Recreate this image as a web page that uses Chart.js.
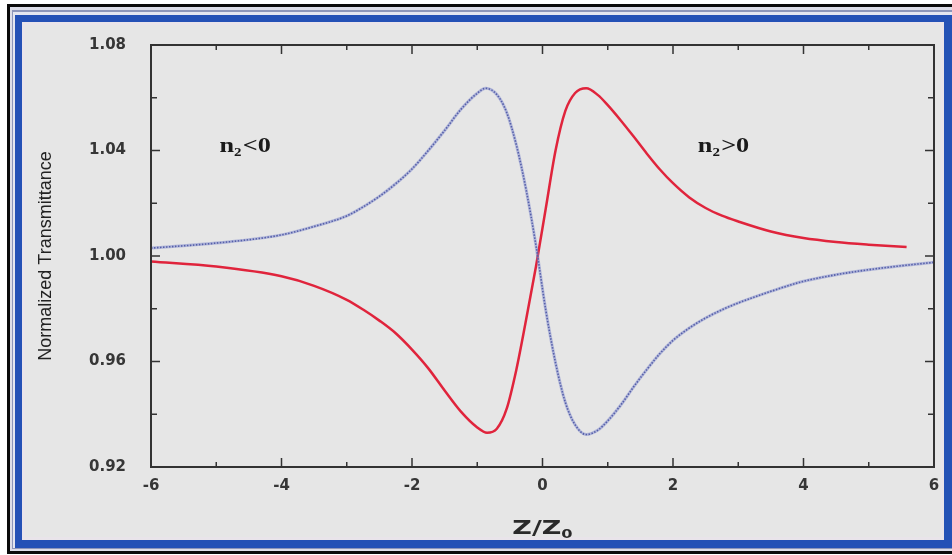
<!DOCTYPE html>
<html>
<head>
<meta charset="utf-8">
<script src="https://cdn.jsdelivr.net/npm/chart.js@4.4.0/dist/chart.umd.min.js"></script>
<style>
html, body { margin: 0; padding: 0; background: #fff; }
#wrap { width: 952px; height: 555px; }
</style>
</head>
<body>
<div id="wrap"><canvas id="zscan"></canvas></div>
<script>
// values (Z/Z0 vs normalized transmittance)
// n2 < 0 : blue dotted curve (peak then valley)
const zNeg = [-6, -5, -4, -3.5, -3, -2.75, -2.5, -2.25, -2, -1.75, -1.5, -1.25, -1.0, -0.87, -0.7, -0.55, -0.4, -0.25, -0.1, 0.05, 0.2, 0.35, 0.5, 0.67, 0.85, 1.0, 1.2, 1.4, 1.6, 1.8, 2, 2.25, 2.5, 2.75, 3, 3.5, 4, 4.5, 5, 5.5, 6];
const tNeg = [1.0030, 1.0049, 1.0080, 1.0112, 1.0152, 1.0186, 1.0226, 1.0274, 1.0330, 1.0400, 1.0476, 1.0556, 1.0617, 1.0636, 1.0612, 1.0545, 1.0420, 1.0250, 1.0040, 0.9795, 0.9595, 0.9445, 0.9360, 0.9323, 0.9340, 0.9375, 0.9435, 0.9505, 0.9570, 0.9630, 0.9680, 0.9727, 0.9765, 0.9796, 0.9822, 0.9866, 0.9904, 0.9929, 0.9948, 0.9963, 0.9976];

// n2 > 0 : red solid curve (valley then peak)
const zPos = [-6, -5, -4, -3.5, -3, -2.75, -2.5, -2.25, -2, -1.75, -1.5, -1.25, -1.0, -0.85, -0.7, -0.55, -0.4, -0.25, -0.1, 0.05, 0.2, 0.35, 0.5, 0.67, 0.85, 1.0, 1.2, 1.4, 1.6, 1.8, 2, 2.25, 2.5, 2.75, 3, 3.5, 4, 4.5, 5, 5.58];
const tPos = [0.9979, 0.9960, 0.9923, 0.9887, 0.9834, 0.9797, 0.9755, 0.9707, 0.9645, 0.9574, 0.9490, 0.9410, 0.9350, 0.9330, 0.9345, 0.9420, 0.9570, 0.9760, 0.9960, 1.0180, 1.0400, 1.0550, 1.0618, 1.0636, 1.0610, 1.0572, 1.0514, 1.0452, 1.0388, 1.0328, 1.0276, 1.0222, 1.0182, 1.0153, 1.0131, 1.0093, 1.0068, 1.0053, 1.0043, 1.0034];

const xTickLabels = ['-6', '-4', '-2', '0', '2', '4', '6'];
const yTickLabels = ['0.92', '0.96', '1.00', '1.04', '1.08'];

// annotation anchors in data units
const notes = [
    { text: 'n', sub: '2', rest: '<0', z: -4.95, t: 1.042 },
    { text: 'n', sub: '2', rest: '>0', z: 2.38, t: 1.042 }
];

const toPts = (xs, ys) => xs.map((x, i) => ({ x: x, y: ys[i] }));

// background, blue frame
const framePlugin = {
    id: 'frame',
    beforeDraw(chart) {
        const ctx = chart.ctx;
        const w = chart.width;
        ctx.save();
        ctx.fillStyle = '#ffffff';
        ctx.fillRect(0, 0, w, chart.height);
        ctx.fillStyle = '#0b0b0b';
        ctx.fillRect(7, 4, w - 7, 550);
        ctx.fillStyle = '#dcdde8';
        ctx.fillRect(10, 7, w - 10, 544);
        ctx.fillStyle = '#8d96ba';
        ctx.fillRect(12, 10, w - 12, 539);
        ctx.fillStyle = '#e4e6f0';
        ctx.fillRect(13, 12, w - 13, 536);
        ctx.fillStyle = '#2451b6';
        ctx.fillRect(15, 15, w - 15, 533);
        ctx.fillStyle = '#e9e4ea';
        ctx.fillRect(22, 22, 922, 518);
        ctx.fillStyle = '#e6e6e6';
        ctx.fillRect(25, 25, 916, 512);
        ctx.restore();
    }
};

// axis box with inward ticks, text annotations, x title
const axesPlugin = {
    id: 'axesBox',
    afterDraw(chart) {
        const ctx = chart.ctx;
        const a = chart.chartArea;
        const xs = chart.scales.x;
        const ys = chart.scales.y;
        ctx.save();
        ctx.strokeStyle = '#333333';
        ctx.lineWidth = 2;
        ctx.strokeRect(a.left, a.top, a.right - a.left, a.bottom - a.top);

        ctx.lineWidth = 1.5;
        ctx.beginPath();
        xs.ticks.forEach(tk => {
            const px = xs.getPixelForValue(tk.value);
            const len = Math.round(tk.value) % 2 === 0 ? 9 : 5;
            ctx.moveTo(px, a.bottom); ctx.lineTo(px, a.bottom - len);
            ctx.moveTo(px, a.top); ctx.lineTo(px, a.top + len);
        });
        ys.ticks.forEach(tk => {
            const py = ys.getPixelForValue(tk.value);
            const len = Math.round(tk.value * 100) % 4 === 0 ? 9 : 6;
            ctx.moveTo(a.left, py); ctx.lineTo(a.left + len, py);
            ctx.moveTo(a.right, py); ctx.lineTo(a.right - len, py);
        });
        ctx.stroke();

        // n2 labels, a bit stretched like the source
        ctx.fillStyle = '#1a1a1a';
        ctx.textBaseline = 'alphabetic';
        notes.forEach(n => {
            const px0 = xs.getPixelForValue(n.z);
            const py = ys.getPixelForValue(n.t) + 7;
            ctx.save();
            ctx.translate(px0, py);
            ctx.scale(1.25, 1);
            let px = 0;
            ctx.font = 'bold 21px "Liberation Serif", serif';
            ctx.fillText(n.text, px, 0);
            px += ctx.measureText(n.text).width;
            ctx.font = 'bold 12px "Liberation Serif", serif';
            ctx.fillText(n.sub, px, 4);
            px += ctx.measureText(n.sub).width + 1;
            ctx.font = 'bold 21px "Liberation Serif", serif';
            ctx.fillText(n.rest, px, 0);
            ctx.restore();
        });

        // x axis title Z/Z0
        const cx = (a.left + a.right) / 2;
        ctx.translate(cx, 534);
        ctx.scale(1.35, 1);
        ctx.font = 'bold 20px "DejaVu Sans", sans-serif';
        const main = 'Z/Z';
        const wMain = ctx.measureText(main).width;
        ctx.font = 'bold 12px "DejaVu Sans", sans-serif';
        const wSub = ctx.measureText('0').width;
        const x0 = -(wMain + wSub) / 2;
        ctx.fillStyle = '#2a2a2a';
        ctx.font = 'bold 20px "DejaVu Sans", sans-serif';
        ctx.fillText(main, x0, 0);
        ctx.font = 'bold 12px "DejaVu Sans", sans-serif';
        ctx.fillText('0', x0 + wMain, 4);
        ctx.restore();
    }
};

const tickFont = { family: '"DejaVu Sans", sans-serif', size: 15, weight: 'bold' };

new Chart(document.getElementById('zscan'), {
    type: 'scatter',
    data: {
        datasets: [
            {
                // soft halo under the dotted curve
                label: 'n2<0 halo',
                data: toPts(zNeg, tNeg),
                showLine: true,
                borderColor: 'rgba(125, 135, 205, 0.5)',
                borderWidth: 3,
                pointRadius: 0,
                cubicInterpolationMode: 'monotone'
            },
            {
                label: 'n2<0',
                data: toPts(zNeg, tNeg),
                showLine: true,
                borderColor: '#2d3784',
                borderWidth: 1.6,
                borderDash: [1.5, 1.5],
                pointRadius: 0,
                cubicInterpolationMode: 'monotone'
            },
            {
                label: 'n2>0',
                data: toPts(zPos, tPos),
                showLine: true,
                borderColor: '#e0243c',
                borderWidth: 2.5,
                pointRadius: 0,
                cubicInterpolationMode: 'monotone'
            }
        ]
    },
    options: {
        responsive: true,
        maintainAspectRatio: false,
        animation: false,
        layout: { padding: { top: 45, right: 18, left: 0, bottom: 0 } },
        plugins: {
            legend: { display: false },
            tooltip: { enabled: false }
        },
        scales: {
            x: {
                type: 'linear',
                min: -6,
                max: 6,
                grid: { display: false },
                border: { display: false },
                ticks: {
                    stepSize: 1,
                    autoSkip: false,
                    maxRotation: 0,
                    padding: 2,
                    color: '#363636',
                    font: tickFont,
                    callback: v => xTickLabels.includes(String(v)) ? String(v) : ''
                },
                afterFit: s => { s.height = 88; }
            },
            y: {
                min: 0.92,
                max: 1.08,
                grid: { display: false },
                border: { display: false },
                title: {
                    display: true,
                    text: 'Normalized Transmittance',
                    color: '#222222',
                    font: { family: '"Liberation Sans", Arial, sans-serif', size: 18 },
                    padding: { top: 35, bottom: 0 }
                },
                ticks: {
                    stepSize: 0.02,
                    autoSkip: false,
                    padding: 17,
                    color: '#363636',
                    font: tickFont,
                    callback: v => yTickLabels.includes(Number(v).toFixed(2)) ? Number(v).toFixed(2) : ''
                },
                afterFit: s => { s.width = 151; }
            }
        }
    },
    plugins: [framePlugin, axesPlugin]
});
</script>
</body>
</html>
